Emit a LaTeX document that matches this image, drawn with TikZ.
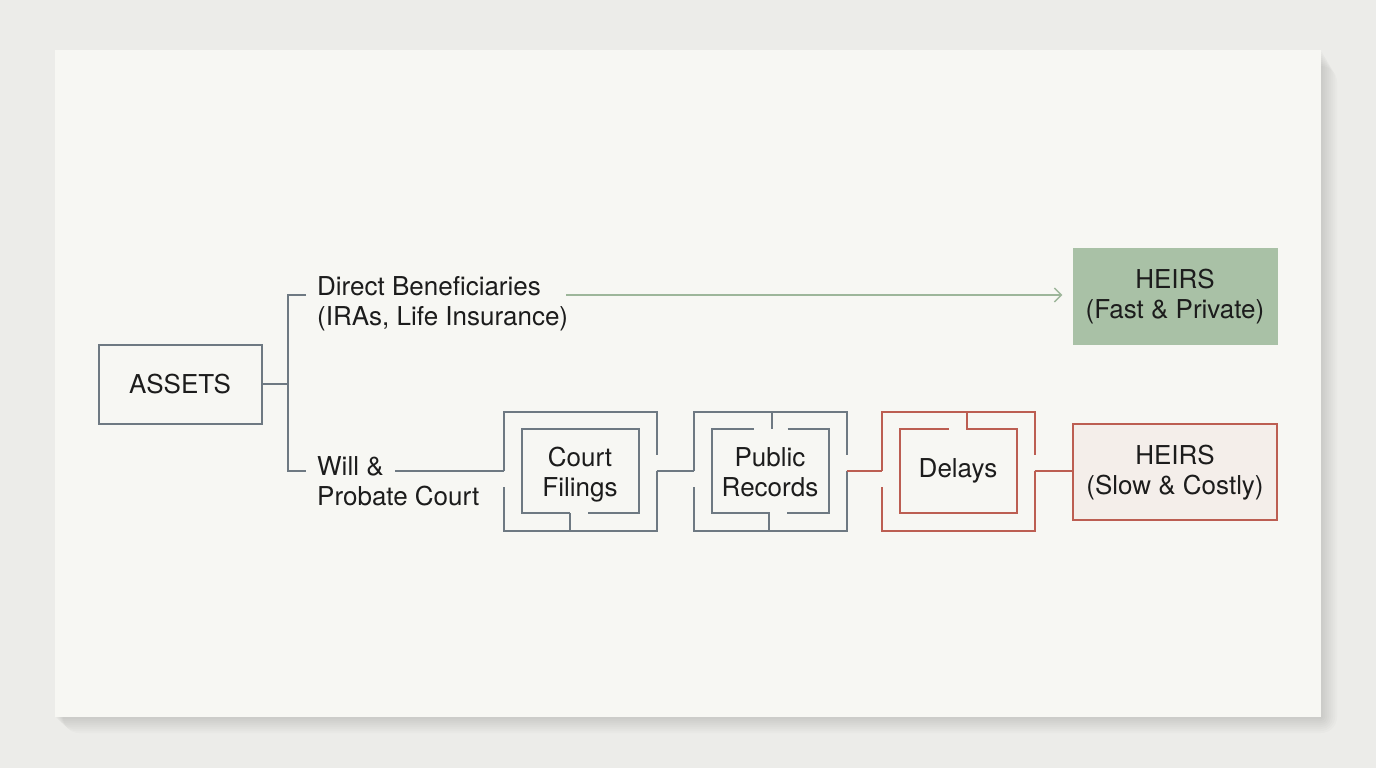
\documentclass[tikz,border=0pt]{standalone}
\usepackage{fontspec}
\setmainfont{TeX Gyre Heros}
\usepackage{tikz}
\usetikzlibrary{arrows.meta,positioning,calc}
\definecolor{PlanPaper}{HTML}{F7F7F3}
\definecolor{PlanBack}{HTML}{ECECE9}
\definecolor{PlanSlate}{HTML}{6E7982}
\definecolor{PlanRust}{HTML}{BC5E52}
\definecolor{PlanSage}{HTML}{A9C1A6}
\definecolor{PlanSageLine}{HTML}{9DB69A}
\definecolor{PlanBlush}{HTML}{F4EEEA}
\definecolor{PlanInk}{HTML}{1C1C1C}

\begin{document}
\begin{tikzpicture}[
      x=1pt, y=-1pt,
      every node/.style={font=\fontsize{26}{30}\selectfont, text=PlanInk},
      wall/.style={draw=PlanSlate, line width=2pt},
      redwall/.style={draw=PlanRust, line width=2pt},
      box/.style={wall, fill=PlanPaper, align=center, inner sep=6pt},
      label/.style={align=left, inner sep=8pt, anchor=west},
      arrow/.style={-{Straight Barb[length=7pt,width=14pt]}, line width=1.4pt, draw=PlanSageLine},
      mazeouter/.pic={
        \coordinate (-in) at (-76.5,0);
        \coordinate (-out) at (76.5,0);
        \draw (-76.5,0) -- (-76.5,-59.5) -- (76.5,-59.5) -- (76.5,-16.5);
        \draw (-76.5,16) -- (-76.5,59.5) -- (76.5,59.5) -- (76.5,0);
      }
    ]
    % page and card
    \useasboundingbox (0,0) rectangle (1376,768);
    \fill[PlanBack] (0,0) rectangle (1376,768);
    \foreach \s in {2,4,...,16}
      \fill[black, opacity=0.014, rounded corners=\s] (55+\s/2,50+\s) rectangle (1321+\s,717+\s);
    \fill[PlanPaper] (55,50) rectangle (1321,717);

    % nodes
    \node[box, minimum width=163pt, minimum height=79pt] (assets) at (180,384) {ASSETS};
    \node[label] (direct) at (309,304) {Direct Beneficiaries\\(IRAs, Life Insurance)};
    \node[label] (will) at (309,481) {Will \&\\Probate Court};
    \node[fill=PlanSage, minimum width=205pt, minimum height=97pt, align=center] (fastheirs) at (1175,296.5) {HEIRS\\(Fast \& Private)};
    \node[box, redwall, fill=PlanBlush, minimum width=204pt, minimum height=96pt, below=78pt of fastheirs] (slowheirs) {HEIRS\\(Slow \& Costly)};

    \coordinate (courtmid) at (580,471);
    \coordinate (recordsmid) at (770,471);
    \coordinate (delaysmid) at (958,471);
    \node[align=center, below=-27pt of courtmid] (court) {Court\\Filings};
    \node[align=center, below=-27pt of recordsmid] (records) {Public\\Records};
    \node[align=center] (delays) at (delaysmid) {Delays};

    % mazes
    \pic[wall] (cm) at (courtmid) {mazeouter};
    \begin{scope}[shift={(courtmid)}, wall]
      \draw (-10.5,42) -- (-58.5,42) -- (-58.5,-42) -- (58.5,-42) -- (58.5,42) -- (7.5,42);
      \draw (-10.5,42) -- (-10.5,59.5);
    \end{scope}
    \pic[wall] (pr) at (recordsmid) {mazeouter};
    \begin{scope}[shift={(recordsmid)}, wall]
      \draw (-16.5,-42) -- (-58.5,-42) -- (-58.5,42) -- (-1.5,42) -- (-1.5,59.5);
      \draw (17.5,-42) -- (58.5,-42) -- (58.5,42) -- (16.5,42);
      \draw (1.5,-59.5) -- (1.5,-42);
    \end{scope}
    \pic[redwall] (dl) at (delaysmid) {mazeouter};
    \begin{scope}[shift={(delaysmid)}, redwall]
      \draw (-9.5,-42) -- (-58.5,-42) -- (-58.5,42) -- (58.5,42) -- (58.5,-42) -- (8.5,-42) -- (8.5,-59.5);
    \end{scope}

    % connectors
    \coordinate (fork) at (288,384);
    \coordinate (forktop) at (306,295);
    \coordinate (forkbot) at (306,471);
    \coordinate (willout) at (395,471);
    \draw[wall] (assets.east) -- (fork);
    \draw[wall] (forktop) -- (fork |- forktop) -- (fork |- forkbot) -- (forkbot);
    \draw[arrow] ([xshift=-10pt]direct.east |- 0,295) -- ([xshift=-10pt]fastheirs.west |- 0,295);
    \draw[wall] (willout) -- (cm-in);
    \draw[wall] (cm-out) -- (pr-in);
    \draw[redwall] (pr-out) -- (dl-in);
    \draw[redwall] (dl-out) -- (dl-out -| slowheirs.west);
  \end{tikzpicture}
\end{document}
